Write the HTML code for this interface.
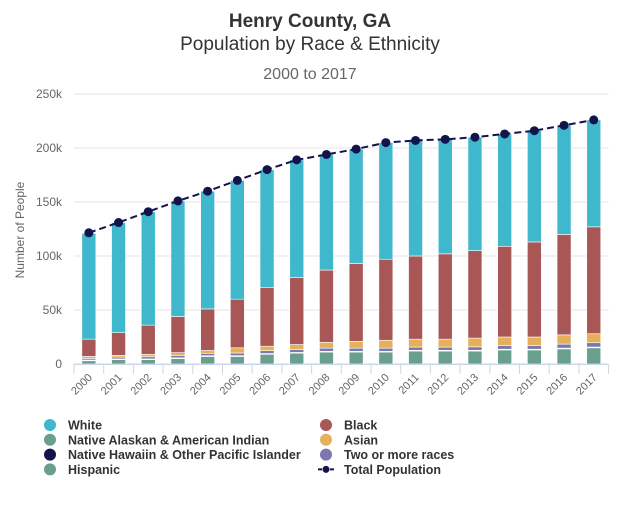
<!DOCTYPE html>
<html><head><meta charset="utf-8"><style>
body{margin:0;background:#fff;font-family:"Liberation Sans",sans-serif}
svg{display:block}
</style></head><body>
<svg id="c" width="620" height="517" xmlns="http://www.w3.org/2000/svg">
<text x="310" y="27" text-anchor="middle" font-size="19" font-weight="bold" fill="#333">Henry County, GA</text>
<text x="310" y="50" text-anchor="middle" font-size="19" fill="#333">Population by Race &amp; Ethnicity</text>
<text x="310" y="79" text-anchor="middle" font-size="16" fill="#666">2000 to 2017</text>
<text transform="translate(24,230) rotate(-90)" text-anchor="middle" font-size="12" fill="#666">Number of People</text>
<g id="grid"></g><g id="bars"></g><g id="line"></g><g id="axes"></g><g id="legend"></g>
</svg>
<script>
const years=["2000","2001","2002","2003","2004","2005","2006","2007","2008","2009","2010","2011","2012","2013","2014","2015","2016","2017"];
const hispanic=[3,4,4,5,7,7,9,10,11,11,11,12,12,12,13,13,14,15];
const alaskan=[0.5,0.5,0.5,0.5,0.5,0.5,0.5,0.5,0.5,0.5,0.5,0.5,0.5,0.5,0.5,0.5,0.5,0.5];
const hawaiian=[0.2,0.2,0.2,0.2,0.2,0.2,0.2,0.2,0.2,0.2,0.2,0.2,0.2,0.2,0.2,0.2,0.2,0.2];
const twoMore=[1.5,1.7,2,2,2.2,2.5,2.7,2.8,3,3,3,3,3,3.2,3.3,3.5,3.7,4];
const asian=[1.8,1.6,2.3,2.8,2.6,4.8,4.1,4.5,5.3,6.3,7.3,7.3,7.3,8.1,8,7.8,8.6,8.3];
const black=[16,21,27,33.5,38.5,45,54.5,62,67,72,75,77,79,81,84,88,93,99];
const white=[98,102,105,107,109,110,109,109,107,106,108,107,106,105,104,103,101,99];
const total=[121.5,131,141,151,160,170,180,189,194,199,205,207,208,210,213,216,221,226];
const yTicks=[0,50,100,150,200,250];
const yTickLabels=["0","50k","100k","150k","200k","250k"];
const NS="http://www.w3.org/2000/svg";
const X0=74,BW=29.7,Y0=364,YS=270/250;
const x=i=>X0+BW*(i+0.5);
const y=v=>Y0-v*YS;
function mk(t,a,p){const e=document.createElementNS(NS,t);for(const k in a)e.setAttribute(k,a[k]);p.appendChild(e);return e;}
const grid=document.getElementById('grid');
yTicks.forEach((v,i)=>{
 const l=mk('line',{x1:X0,x2:X0+BW*18,y1:y(v),y2:y(v),stroke:i?'#e6e6e6':'#ccd6eb'},grid);
 
 
 const t=mk('text',{x:62,y:y(v)+4,'text-anchor':'end','font-size':12,fill:'#666'},grid);
 t.textContent=yTickLabels[i];
 
 
});
const series=[[hispanic,'#6a9e8e','hispanic'],[alaskan,'#7fb0a0','alaskan'],[hawaiian,'#14144d','hawaiian'],[twoMore,'#7a78b0','two-or-more'],[asian,'#e6b05a','asian'],[black,'#a85656','black'],[white,'#3fb8cd','white']];
const bars=document.getElementById('bars');
years.forEach((yr,i)=>{
 let acc=0;
 series.forEach(s=>{
  const v=s[0][i];
  const r=mk('rect',{x:x(i)-7,width:14,y:y(acc+v),height:v*YS,fill:s[1],stroke:'#fff','stroke-width':0.6},bars);
  
  
  acc+=v;
 });
});
const axes=document.getElementById('axes');
mk('line',{x1:X0,x2:X0+BW*18,y1:Y0+0.5,y2:Y0+0.5,stroke:'#ccd6eb'},axes);
years.forEach((yr,i)=>{
 mk('line',{x1:X0+BW*i,x2:X0+BW*i,y1:Y0,y2:Y0+10,stroke:'#ccd6eb'},axes);
 const t=mk('text',{transform:`translate(${x(i)+4},${Y0+14}) rotate(-45)`,'text-anchor':'end','font-size':11,fill:'#666'},axes);
 t.textContent=yr;
 
 
});
mk('line',{x1:X0+BW*18,x2:X0+BW*18,y1:Y0,y2:Y0+10,stroke:'#ccd6eb'},axes);
const line=document.getElementById('line');
const p=mk('path',{d:total.map((v,i)=>(i?'L':'M')+x(i)+','+y(v)).join(''),fill:'none',stroke:'#14144d','stroke-width':2,'stroke-dasharray':'7,4'},line);


total.forEach((v,i)=>{
 const c=mk('circle',{cx:x(i),cy:y(v),r:4.5,fill:'#14144d'},line);
 
 
});
const legend=document.getElementById('legend');
const items=[["White",'#3fb8cd',0,0],["Black",'#a85656',1,0],["Native Alaskan & American Indian",'#6a9e8e',0,1],["Asian",'#e6b05a',1,1],["Native Hawaiin & Other Pacific Islander",'#14144d',0,2],["Two or more races",'#7a78b0',1,2],["Hispanic",'#6a9e8e',0,3],["Total Population",'#14144d',1,3]];
items.forEach(it=>{
 const gx=it[2]?326:50, gy=425+it[3]*14.8;
 const g=mk('g',{},legend);
 
 
 if(it[0]==="Total Population"){
  mk('line',{x1:gx-8,x2:gx+8,y1:gy,y2:gy,stroke:it[1],'stroke-width':2,'stroke-dasharray':'4,2'},g);
  mk('circle',{cx:gx,cy:gy,r:3.5,fill:it[1]},g);
 } else mk('circle',{cx:gx,cy:gy,r:6,fill:it[1]},g);
 const t=mk('text',{x:gx+18,y:gy+4.5,'font-size':12.5,'font-weight':'bold',fill:'#333'},g);
 t.textContent=it[0];
});
</script>
</body></html>
